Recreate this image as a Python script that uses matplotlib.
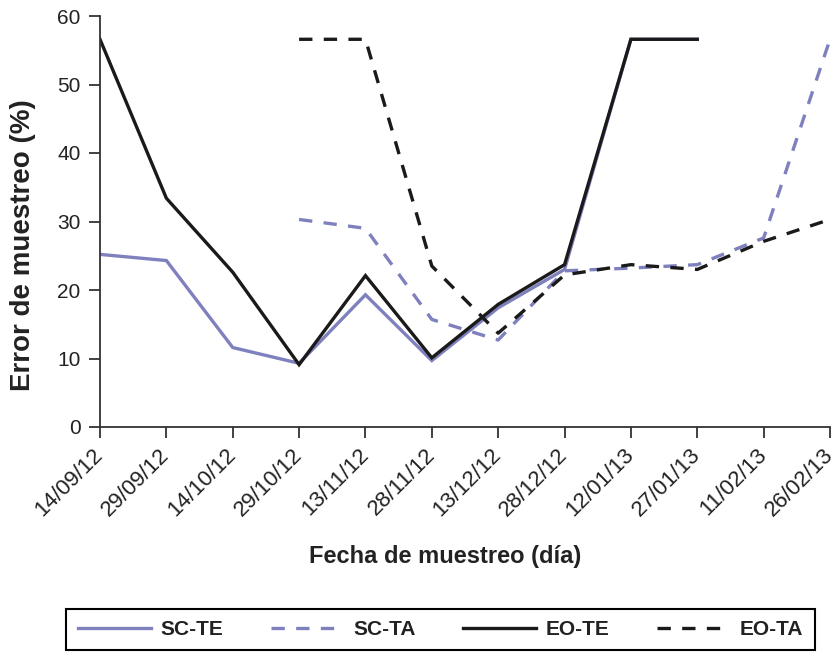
import matplotlib
matplotlib.use("Agg")
import matplotlib.pyplot as plt
import numpy as np

plt.rcParams['font.family'] = ['Liberation Sans', 'DejaVu Sans']

dates = ["14/09/12", "29/09/12", "14/10/12", "29/10/12", "13/11/12", "28/11/12",
         "13/12/12", "28/12/12", "12/01/13", "27/01/13", "11/02/13", "26/02/13"]
nan = np.nan
sc_te = [25.2, 24.3, 11.6, 9.3, 19.3, 9.7, 17.4, 23.0, 56.6, 56.6, nan, nan]
sc_ta = [nan, nan, nan, 30.3, 29.0, 15.7, 12.7, 22.8, 23.2, 23.7, 27.6, 56.6]
eo_te = [56.6, 33.4, 22.6, 9.1, 22.1, 10.1, 17.9, 23.7, 56.6, 56.6, nan, nan]
eo_ta = [nan, nan, nan, 56.6, 56.6, 23.5, 13.7, 22.2, 23.7, 23.0, 27.1, 30.3]

blue = '#7f80be'
black = '#1a1a1a'

fig = plt.figure(figsize=(8.37, 6.53), dpi=100)
ax = fig.add_axes([100/837, 1-427/653, 730/837, 411/653])
x = np.arange(len(dates))
lw = 2.4
dash = (0, (4.0, 3.4))
ax.plot(x, sc_te, color=blue, lw=lw, label='SC-TE', solid_joinstyle='miter')
ax.plot(x, sc_ta, color=blue, lw=lw, ls=dash, label='SC-TA')
ax.plot(x, eo_te, color=black, lw=lw, label='EO-TE', solid_joinstyle='miter')
ax.plot(x, eo_ta, color=black, lw=lw, ls=dash, label='EO-TA')

ax.set_xlim(0, 11)
ax.set_ylim(0, 60)
ax.set_yticks(range(0, 61, 10))
ax.set_xticks(x)
ax.set_xticklabels(dates, rotation=45, ha='right', va='center', rotation_mode='anchor',
                   fontsize=16, color='#222222')
ax.tick_params(axis='y', labelsize=15, length=8, width=1.3, color='#333333', pad=6,
               labelcolor='#222222')
ax.tick_params(axis='x', length=8, width=1.3, color='#333333', pad=10)
for s in ['top', 'right']:
    ax.spines[s].set_visible(False)
for s in ['left', 'bottom']:
    ax.spines[s].set_linewidth(1.3)
    ax.spines[s].set_color('#333333')

fig.text(23/837, 1-245/653, 'Error de muestreo (%)', fontsize=20, fontweight='bold',
         ha='center', va='center', rotation=90, color='#222222')
fig.text(445/837, 1-557/653, 'Fecha de muestreo (día)', fontsize=17, fontweight='bold',
         ha='center', va='center', color='#222222')

leg = fig.legend(loc='center', bbox_to_anchor=(440.5/837, 1-629.5/653), ncol=4,
                 prop={'size': 15, 'weight': 'bold'}, handlelength=3.5, handletextpad=0.45,
                 columnspacing=2.3, fancybox=False, edgecolor='black', framealpha=1,
                 borderpad=0.55, labelcolor='#222222')
leg.get_frame().set_linewidth(1.5)

fig.savefig('out.png', dpi=100)
